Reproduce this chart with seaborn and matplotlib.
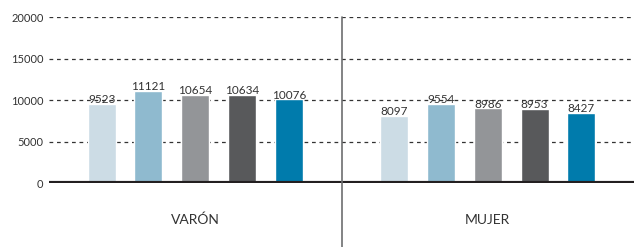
import matplotlib
matplotlib.use("Agg")
import matplotlib.pyplot as plt
import seaborn as sns
import pandas as pd

groups = ["VARÓN", "MUJER"]
series = ["S1", "S2", "S3", "S4", "S5"]
varon = [9523, 11121, 10654, 10634, 10076]
mujer = [8097, 9554, 8986, 8953, 8427]
colors = ["#CCDCE5", "#8FBACF", "#939598", "#58595B", "#007BAC"]
yticks = [0, 5000, 10000, 15000, 20000]

rows = []
for g, vals in zip(groups, [varon, mujer]):
    for s, v in zip(series, vals):
        rows.append({"grupo": g, "serie": s, "valor": v})
df = pd.DataFrame(rows)

sns.set_theme(style="white")
plt.rcParams['font.family'] = ['Lato', 'DejaVu Sans']

fig = plt.figure(figsize=(6.42, 2.47), dpi=100)
ax = fig.add_axes([49/642, (247-183)/247, (634-49)/642, 166/247])

sns.barplot(data=df, x="grupo", y="valor", hue="serie", palette=colors,
            order=groups, hue_order=series, width=0.8, gap=0.4,
            legend=False, ax=ax, saturation=1)

for cont in ax.containers:
    ax.bar_label(cont, fmt="%d", padding=-1, fontsize=8.5, color="#333333")

ax.set_ylim(0, 20000)
ax.set_xlim(-0.5, 1.5)
ax.set_yticks(yticks)
ax.set_yticklabels([str(t) for t in yticks], fontsize=8, color="#333333")
ax.tick_params(axis="y", length=0, pad=4)
ax.tick_params(axis="x", length=0, pad=22, labelsize=10, labelcolor="#333333")
ax.set_xlabel("")
ax.set_ylabel("")
for sp in ax.spines.values():
    sp.set_visible(False)

for t in yticks[1:]:
    ax.axhline(t, color="#333333", lw=0.9, ls=(0, (3, 3)), zorder=0)
ax.axhline(0, color="#231F20", lw=3, zorder=5)
ax.axvline(0.5, ymin=(183-247)/166, ymax=1.0, color="#6D6E70", lw=1.2,
           clip_on=False, zorder=6)

fig.savefig("out.png", dpi=100)
